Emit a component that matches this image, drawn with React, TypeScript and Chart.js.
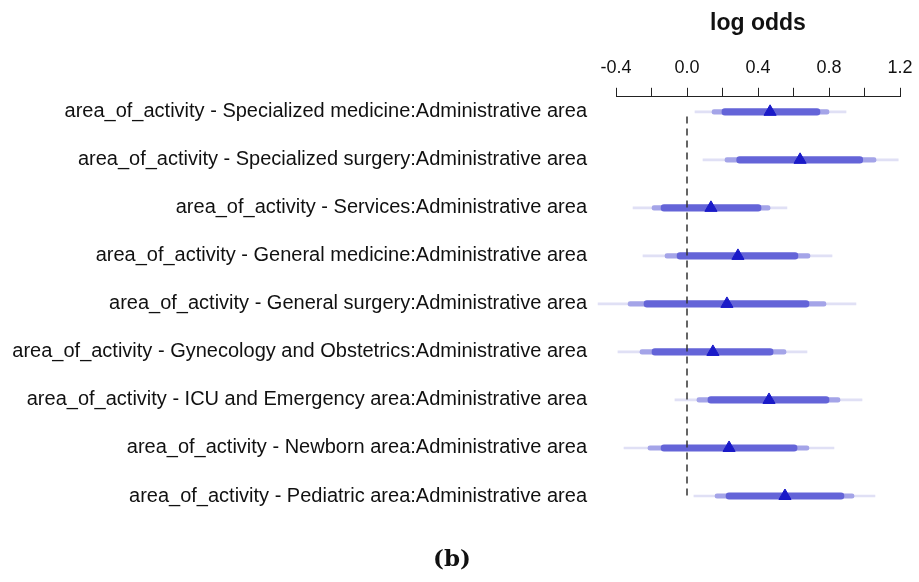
import React, { useEffect, useRef } from "react";
import { Chart, registerables } from "chart.js";

Chart.register(...registerables);

const ROW_LABELS = [
  "area_of_activity - Specialized medicine:Administrative area",
  "area_of_activity - Specialized surgery:Administrative area",
  "area_of_activity - Services:Administrative area",
  "area_of_activity - General medicine:Administrative area",
  "area_of_activity - General surgery:Administrative area",
  "area_of_activity - Gynecology and Obstetrics:Administrative area",
  "area_of_activity - ICU and Emergency area:Administrative area",
  "area_of_activity - Newborn area:Administrative area",
  "area_of_activity - Pediatric area:Administrative area",
];
const ROW_POS = [1, 2, 3, 4, 5, 6, 7, 8, 9];

const POINT_EST = [0.468, 0.637, 0.135, 0.287, 0.225, 0.146, 0.462, 0.237, 0.552];
const INNER_LO = [0.197, 0.28, -0.146, -0.056, -0.242, -0.197, 0.118, -0.146, 0.22];
const INNER_HI = [0.749, 0.99, 0.417, 0.625, 0.687, 0.485, 0.8, 0.62, 0.884];
const MID_LO = [0.141, 0.214, -0.197, -0.124, -0.332, -0.265, 0.056, -0.22, 0.158];
const MID_HI = [0.8, 1.065, 0.468, 0.693, 0.783, 0.558, 0.862, 0.687, 0.941];
const OUTER_LO = [0.045, 0.09, -0.304, -0.248, -0.501, -0.389, -0.068, -0.355, 0.039];
const OUTER_HI = [0.896, 1.19, 0.563, 0.817, 0.952, 0.676, 0.986, 0.828, 1.059];

const TICK_VALUES = [-0.4, -0.2, 0, 0.2, 0.4, 0.6, 0.8, 1.0, 1.2];
const TICK_LABELS = ["-0.4", "", "0.0", "", "0.4", "", "0.8", "", "1.2"];

const REF_X = [0, 0];
const REF_Y = [1.1, 9];

const AXIS_TITLE = "log odds";
const CAPTION = "(b)";

const SANS = "'Liberation Sans', Arial, Helvetica, sans-serif";

function intervals(lo: number[], hi: number[]) {
  return ROW_POS.map((y, i) => ({ x: [lo[i], hi[i]], y }));
}

export default function App() {
  const ref = useRef<HTMLCanvasElement | null>(null);

  useEffect(() => {
    if (!ref.current) return;
    const chart = new Chart(ref.current, {
      type: "bar",
      data: {
        datasets: [
          {
            type: "scatter",
            label: "estimate",
            data: ROW_POS.map((y, i) => ({ x: POINT_EST[i], y })),
            pointStyle: "triangle",
            pointRadius: 7,
            backgroundColor: "#1a1ac8",
            borderColor: "#1a1ac8",
            borderWidth: 1,
            order: 0,
            clip: false,
          } as any,
          {
            type: "line",
            label: "ref",
            data: REF_X.map((x, i) => ({ x, y: REF_Y[i] })),
            borderColor: "#333333",
            borderWidth: 1.5,
            borderDash: [7, 5],
            pointRadius: 0,
            fill: false,
            order: 1,
            clip: false,
          } as any,
          {
            label: "inner",
            data: intervals(INNER_LO, INNER_HI) as any,
            backgroundColor: "#6464d8",
            barThickness: 6.5,
            borderRadius: 3.25,
            borderSkipped: false,
            grouped: false,
            order: 2,
            clip: false,
          } as any,
          {
            label: "mid",
            data: intervals(MID_LO, MID_HI) as any,
            backgroundColor: "#a4a4e8",
            barThickness: 4.5,
            borderRadius: 2.25,
            borderSkipped: false,
            grouped: false,
            order: 3,
            clip: false,
          } as any,
          {
            label: "outer",
            data: intervals(OUTER_LO, OUTER_HI) as any,
            backgroundColor: "#e0e0f5",
            barThickness: 2,
            borderSkipped: false,
            grouped: false,
            order: 4,
            clip: false,
          } as any,
        ],
      },
      options: {
        indexAxis: "y",
        responsive: false,
        animation: false,
        layout: { padding: { top: 0, left: 0, right: 19, bottom: 62 } },
        plugins: {
          legend: { display: false },
          tooltip: { enabled: false },
        },
        scales: {
          x: {
            type: "linear",
            position: "top",
            offset: false,
            min: -0.4,
            max: 1.2,
            afterBuildTicks: (axis: any) => {
              axis.ticks = TICK_VALUES.map((v) => ({ value: v }));
            },
            ticks: {
              autoSkip: false,
              maxRotation: 0,
              padding: 0,
              color: "#111",
              font: { family: SANS, size: 18, lineHeight: 2.2 },
              callback: (v: any) => {
                const i = TICK_VALUES.findIndex((t) => Math.abs(t - Number(v)) < 1e-6);
                return i >= 0 ? TICK_LABELS[i] : "";
              },
            },
            grid: {
              display: true,
              offset: false,
              drawOnChartArea: false,
              drawTicks: true,
              tickLength: 9,
              color: "#222",
              lineWidth: 1,
            },
            border: { display: true, color: "#222", width: 1 },
            title: {
              display: true,
              text: AXIS_TITLE,
              color: "#111",
              font: { family: SANS, size: 23, weight: "bold" },
              padding: { top: 10, bottom: 10.6 },
            },
          },
          y: {
            type: "linear",
            reverse: true,
            offset: false,
            min: 0.6875,
            max: 9.5,
            afterBuildTicks: (axis: any) => {
              axis.ticks = ROW_POS.map((v) => ({ value: v }));
            },
            afterFit: (scale: any) => {
              scale.width = 616;
            },
            ticks: {
              autoSkip: false,
              padding: 29,
              color: "#111",
              font: { family: SANS, size: 20 },
              callback: (v: any) => {
                const i = ROW_POS.indexOf(Number(v));
                return i >= 0 ? ROW_LABELS[i] : "";
              },
            },
            grid: { display: false, drawTicks: false, offset: false },
            border: { display: false },
          },
        },
      } as any,
    });
    return () => chart.destroy();
  }, []);

  return (
    <div style={{ position: "absolute", left: 0, top: 0, width: 919, height: 582, background: "#fff" }}>
      <canvas ref={ref} width={919} height={582} style={{ display: "block" }} />
      <div
        style={{
          position: "absolute",
          left: 452,
          top: 545,
          transform: "translateX(-50%)",
          fontFamily: "'DejaVu Serif', 'Liberation Serif', serif",
          fontWeight: "bold",
          fontSize: 23,
          lineHeight: "26px",
          color: "#111",
        }}
      >
        {CAPTION}
      </div>
    </div>
  );
}
